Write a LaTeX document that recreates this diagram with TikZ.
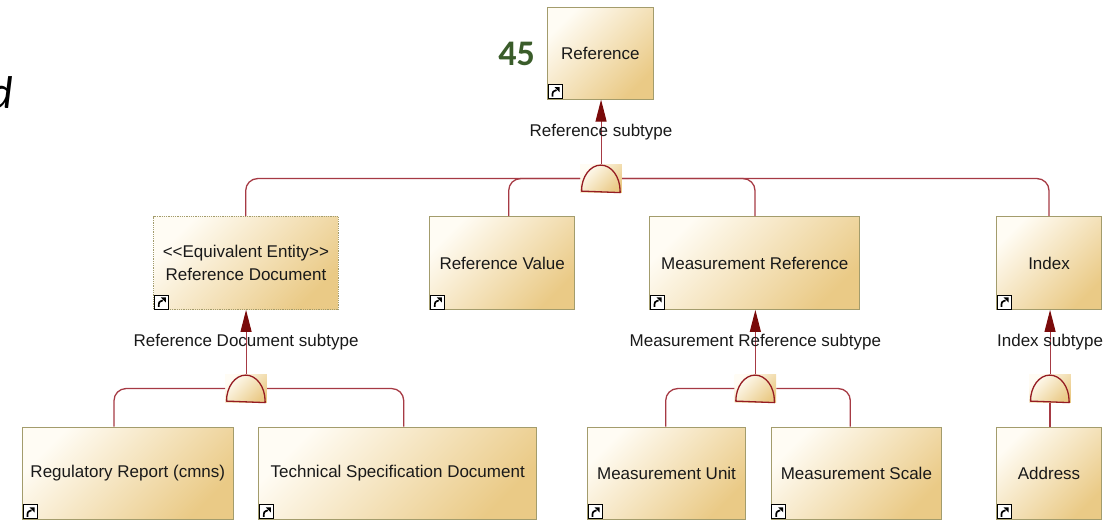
\documentclass[tikz,border=0pt]{standalone}
\usepackage{fontspec}
\setmainfont{Liberation Sans}
\newfontfamily\carlito{Carlito}
\usetikzlibrary{arrows.meta}
\definecolor{boxlight}{HTML}{FFFCF4}
\definecolor{boxdark}{HTML}{EACA86}
\definecolor{boxborder}{HTML}{A39C6C}
\definecolor{connred}{HTML}{A63A44}
\definecolor{arrowred}{HTML}{7A0A0A}
\definecolor{semired}{HTML}{951C22}
\definecolor{numgreen}{HTML}{3A5C2A}
\newcommand\scicon[1]{%
  \draw[black, fill=white, line width=0.8pt] ([shift={(1,-1)}]#1.south west) rectangle ([shift={(15,-15)}]#1.south west);
  \draw[black, line width=1.7pt] ([shift={(5.5,-3)}]#1.south west) .. controls ([shift={(5.5,-8)}]#1.south west) .. ([shift={(9.5,-9.5)}]#1.south west);
  \fill[black] ([shift={(7.5,-12.5)}]#1.south west) -- ([shift={(12.5,-12.5)}]#1.south west) -- ([shift={(12.5,-7.5)}]#1.south west) -- cycle;
}
\newcommand\gensym[1]{%
  \draw[draw=semired, line width=1.3pt, line join=round] ([shift={(1.5,-2)}]#1.south west) arc[start angle=180, end angle=0, x radius=19.3pt, y radius=26pt] -- ++(0,1.5) -- cycle;
}
\begin{document}
\begin{tikzpicture}[x=1pt,y=-1pt,
  entity/.style={draw=boxborder, line width=1.1pt, top color=boxlight, bottom color=boxdark, shading angle=45,
    anchor=north west, inner sep=2pt, align=center, font=\fontsize{17}{23.5}\selectfont, text=black!90},
  equiv/.style={entity, dash pattern=on 1pt off 0.8pt},
  gen/.style={rectangle, top color=boxlight, bottom color=boxdark, shading angle=45, anchor=north west,
    minimum width=41.7pt, minimum height=28.7pt, inner sep=0pt, draw=none},
  conn/.style={draw=connred, line width=1.3pt, rounded corners=12pt},
  arr/.style={draw=connred, line width=1.1pt, -{Triangle[length=22pt,width=11pt,color=arrowred]}},
  lbl/.style={font=\fontsize{17}{19}\selectfont, text=black!90, inner sep=0pt}]
\useasboundingbox (0,0) rectangle (1114,520);

% partial text at the left edge
\node[font=\carlito\itshape\fontsize{46}{46}\selectfont, anchor=base east, inner sep=0pt] (dtext) at (13,108) {d};

% number
\node[font=\carlito\bfseries\fontsize{36}{36}\selectfont, text=numgreen, inner sep=0pt] (num) at (516.5,54) {45};

% entities
\node[entity, minimum width=105.7pt, minimum height=91.8pt] (ref) at (547,6.7) {Reference};
\node[equiv, minimum width=184.2pt, minimum height=92.8pt] (refdoc) at (153.3,216) {<{}<Equivalent Entity>{}>\\Reference Document};
\node[entity, minimum width=144.7pt, minimum height=92.8pt] (refval) at (429.3,216) {Reference Value};
\node[entity, minimum width=210.3pt, minimum height=92.8pt] (measref) at (649,216) {Measurement Reference};
\node[entity, minimum width=105pt, minimum height=92.8pt] (index) at (996,216) {Index};
\node[entity, minimum width=210.5pt, minimum height=92pt] (regrep) at (22,426.7) {Regulatory Report (cmns)};
\node[entity, minimum width=277.7pt, minimum height=92pt] (techspec) at (258.3,426.7) {Technical Specification Document};
\node[entity, minimum width=158pt, minimum height=92pt] (measunit) at (587,426.7) {Measurement Unit};
\node[entity, minimum width=170.3pt, minimum height=92pt] (measscale) at (770.7,426.7) {Measurement Scale};
\node[entity, minimum width=105pt, minimum height=92pt] (address) at (996,426.7) {Address};

\foreach \n in {ref,refdoc,refval,measref,index,regrep,techspec,measunit,measscale,address} {\scicon{\n}}

% generalization symbols
\node[gen] (g1) at (580,164) {};
\node[gen] (g2) at (225,374) {};
\node[gen] (g3) at (734.3,374) {};
\node[gen] (g4) at (1029,374) {};

% connectors to children
\draw[conn] (g1.west) -| ([xshift=92.4pt]refdoc.north west);
\draw[conn] (g1.west) -| ([xshift=79.4pt]refval.north west);
\draw[conn] (g1.east) -| ([xshift=106pt]measref.north west);
\draw[conn] (g1.east) -| ([xshift=53pt]index.north west);
\draw[conn] (g2.west) -| ([xshift=92pt]regrep.north west);
\draw[conn] (g2.east) -| ([xshift=145.4pt]techspec.north west);
\draw[conn] (g3.west) -| ([xshift=78.7pt]measunit.north west);
\draw[conn] (g3.east) -| ([xshift=79.6pt]measscale.north west);
\draw[conn] (g4.south) -- (g4.south |- address.north);

% arrows to parents
\draw[arr] (g1.north) -- (g1.north |- ref.south) node[lbl, midway] {Reference subtype};
\draw[arr] (g2.north) -- (g2.north |- refdoc.south) node[lbl, midway] {Reference Document subtype};
\draw[arr] (g3.north) -- (g3.north |- measref.south) node[lbl, midway] {Measurement Reference subtype};
\draw[arr] (g4.north) -- (g4.north |- index.south) node[lbl, midway] {Index subtype};

\gensym{g1}
\gensym{g2}
\gensym{g3}
\gensym{g4}
\end{tikzpicture}
\end{document}
